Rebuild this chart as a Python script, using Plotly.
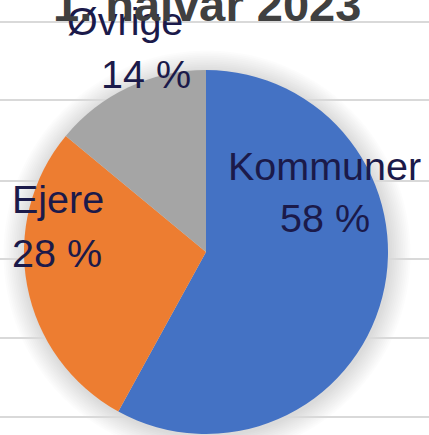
import plotly.graph_objects as go

# ---- data ----
categories = ["Kommuner", "Ejere", "Øvrige"]
shares = [58, 28, 14]
title_text = "1. halvår 2023"

# ---- style ----
colors = ["#4472C4", "#ED7D31", "#A5A5A5"]
label_color = "#1b1a4a"
W, H = 429, 435


def px(x):
    return x / W


def py(y):
    return 1 - y / H


cx, cy, R = 206, 252, 182

fig = go.Figure(
    go.Pie(
        labels=categories,
        values=shares,
        sort=False,
        direction="clockwise",
        rotation=0,
        marker=dict(colors=colors, line=dict(width=0)),
        textinfo="none",
        hoverinfo="label+percent",
        domain=dict(x=[px(cx - R), px(cx + R)], y=[py(cy + R), py(cy - R)]),
        showlegend=False,
    )
)

shapes = []
# soft shadow around the pie
for k in range(12, 0, -1):
    r = R + 1.8 * k
    shapes.append(dict(
        type="circle", layer="below",
        xref="paper", yref="paper",
        xsizemode="pixel", ysizemode="pixel",
        xanchor=px(cx + 1), yanchor=py(cy + 2),
        x0=-r, x1=r, y0=-r, y1=r,
        fillcolor="rgba(0,0,0,0.012)", line=dict(width=0),
    ))
# background sheet lines
for gy in [22, 100, 181, 259, 338, 417]:
    shapes.append(dict(
        type="line", layer="below", xref="paper", yref="paper",
        x0=0, x1=1, y0=py(gy), y1=py(gy),
        line=dict(color="#d9d9d9", width=2),
    ))

# label layout: (line-1 x, line-1 baseline, line-2 x, line-2 baseline, anchor)
label_pos = {
    "Kommuner": (324, 180, 325, 232, "center"),
    "Ejere": (10, 213, 10, 267, "left"),
    "Øvrige": (125, 35, 146, 88, "center"),
}
fs = 39.5
annotations = []
total = sum(shares)
for cat, val in zip(categories, shares):
    x1, b1, x2, b2, anc = label_pos[cat]
    for txt, xx, bb in [(cat, x1, b1), (f"{round(100 * val / total)} %", x2, b2)]:
        annotations.append(dict(
            text=txt, xref="paper", yref="paper",
            x=px(xx), y=py(bb - 0.3465 * fs),
            xanchor=anc, yanchor="middle", showarrow=False,
            font=dict(family="Liberation Sans, Arial, sans-serif", size=fs, color=label_color),
        ))

tfs = 47
annotations.append(dict(
    text="<b>" + title_text + "</b>", xref="paper", yref="paper",
    x=px(207), y=py(21 - 0.3465 * tfs), xanchor="center", yanchor="middle",
    showarrow=False,
    font=dict(family="Liberation Sans, Arial, sans-serif", size=tfs, color="#404040"),
))

fig.update_layout(
    width=W, height=H,
    margin=dict(l=0, r=0, t=0, b=0),
    paper_bgcolor="white", plot_bgcolor="white",
    shapes=shapes, annotations=annotations,
)

fig.write_html(
    "out.html",
    config={"displayModeBar": False},
    post_script="document.body.style.margin='0';document.body.style.overflow='hidden';",
)
